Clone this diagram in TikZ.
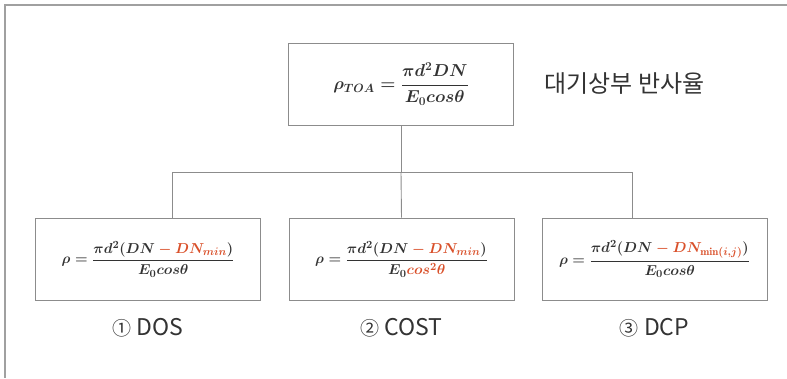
\documentclass[tikz,border=0pt]{standalone}
\usepackage{amsmath,amssymb}
\usepackage{xcolor}
\usepackage{fontspec}
\newfontfamily\krfont{Noto Sans CJK KR}
\usepackage{tikz}
\usetikzlibrary{positioning}

\definecolor{inkgray}{HTML}{333333}
\definecolor{framegray}{HTML}{A0A0A0}
\definecolor{boxgray}{HTML}{8C8C8C}
\definecolor{hired}{HTML}{D9502A}

% smaller circled step number
\newcommand{\stepnum}[1]{{\fontsize{19}{22}\selectfont #1}}

\begin{document}
\begin{tikzpicture}[
  x=1pt, y=-1pt,
  frame/.style={draw=framegray, line width=1.4pt},
  fbox/.style={rectangle, draw=boxgray, line width=0.9pt, minimum width=225pt, minimum height=82pt, inner sep=0pt, text=inkgray, font=\fontsize{15.5}{18}\selectfont\boldmath},
  link/.style={draw=boxgray, line width=0.9pt},
  lbl/.style={text=inkgray, font=\krfont\fontsize{23}{26}\selectfont},
]
\useasboundingbox (0,0) rectangle (787,378);

% Frame
\draw[frame] (787,5) -- (5,5) -- (5,378);

% Formula boxes
\node[fbox, font=\fontsize{17}{20}\selectfont\boldmath] (toa) at (401,84) {$\rho_{TOA}=\dfrac{\pi d^2 DN}{E_0 cos\theta}$};
\node[fbox] (dos) at (148,259) {$\rho=\dfrac{\pi d^2(DN\textcolor{hired}{{}-DN_{min}})}{E_0 cos\theta}$};
\node[fbox] (cost) at (401.5,259) {$\rho=\dfrac{\pi d^2(DN\textcolor{hired}{{}-DN_{min}})}{E_0\textcolor{hired}{cos^2\theta}}$};
\node[fbox] (dcp) at (654.5,259) {$\rho=\dfrac{\pi d^2(DN\textcolor{hired}{{}-DN_{\mathrm{min}(i,j)}})}{E_0 cos\theta}$};

% Connectors
\coordinate (busL) at (172,172);
\coordinate (busR) at (632,172);
\draw[link] (toa.south) -- (toa.south |- busL);
\draw[link] (busL) -- (busR);
\draw[link] (busL) -- (busL |- dos.north);
\draw[link] (toa.south |- busL) -- (cost.north);
\draw[link] (busR) -- (busR |- dcp.north);

% Labels
\node[lbl, anchor=west, font=\krfont\fontsize{24}{28}\selectfont] (toalbl) at ([xshift=27pt]toa.east) {대기상부 반사율};
\node[lbl] (doslbl) at ([yshift=-27pt]dos.south) {\stepnum{①} DOS};
\node[lbl] (costlbl) at ([yshift=-27pt]cost.south) {\stepnum{②} COST};
\node[lbl] (dcplbl) at ([yshift=-27pt]dcp.south) {\stepnum{③} DCP};

\end{tikzpicture}
\end{document}
